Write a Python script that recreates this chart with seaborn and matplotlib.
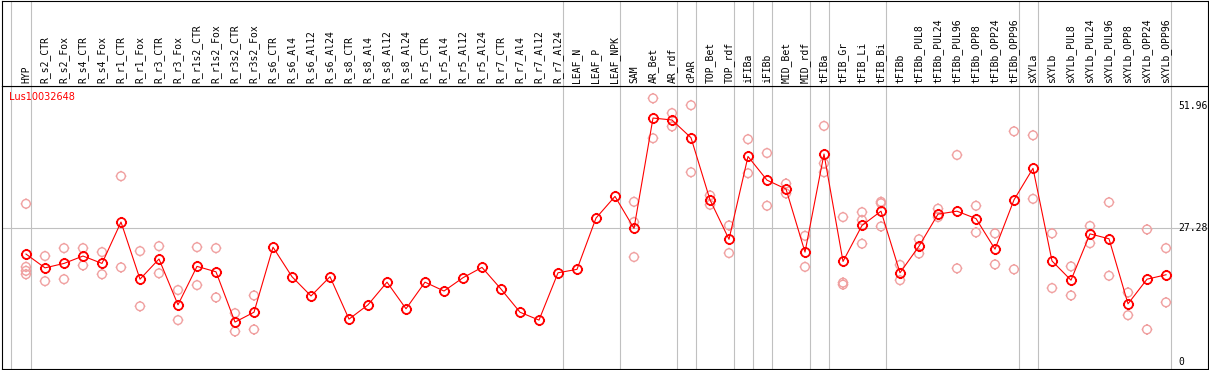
import numpy as np
import pandas as pd
import matplotlib
matplotlib.use("Agg")
import matplotlib.pyplot as plt
import matplotlib.transforms as mtransforms
from matplotlib.path import Path
import seaborn as sns

# sample names (one column each)
samples = [
    "HYP", "R_s2_CTR", "R_s2_Fox", "R_s4_CTR", "R_s4_Fox", "R_r1_CTR", "R_r1_Fox",
    "R_r3_CTR", "R_r3_Fox", "R_r1s2_CTR", "R_r1s2_Fox", "R_r3s2_CTR", "R_r3s2_Fox",
    "R_s6_CTR", "R_s6_Al4", "R_s6_Al12", "R_s6_Al24", "R_s8_CTR", "R_s8_Al4",
    "R_s8_Al12", "R_s8_Al24", "R_r5_CTR", "R_r5_Al4", "R_r5_Al12", "R_r5_Al24",
    "R_r7_CTR", "R_r7_Al4", "R_r7_Al12", "R_r7_Al24", "LEAF_N", "LEAF_P", "LEAF_NPK",
    "SAM", "AR_Bet", "AR_rdf", "cPAR", "TOP_Bet", "TOP_rdf", "iFIBa", "iFIBb",
    "MID_Bet", "MID_rdf", "tFIBa", "tFIB_Gr", "tFIB_Li", "tFIB_Bi", "tFIBb",
    "tFIBb_PUL8", "tFIBb_PUL24", "tFIBb_PUL96", "tFIBb_OPP8", "tFIBb_OPP24",
    "tFIBb_OPP96", "sXYLa", "sXYLb", "sXYLb_PUL8", "sXYLb_PUL24", "sXYLb_PUL96",
    "sXYLb_OPP8", "sXYLb_OPP24", "sXYLb_OPP96",
]

# mean expression per sample
means = [
    22.0, 19.2, 20.1, 21.6, 20.1, 28.5, 16.9, 21.0, 11.7, 19.5, 18.4, 8.2, 10.2,
    23.4, 17.4, 13.5, 17.4, 8.8, 11.7, 16.3, 10.9, 16.3, 14.5, 17.2, 19.3,
    14.9, 10.2, 8.6, 18.2, 18.9, 29.3, 33.7,
    27.2, 49.6, 49.2, 45.6, 33.0, 25.0, 41.8, 37.0, 35.2, 22.4,
    42.3, 20.5, 27.8, 30.7, 18.2, 23.6, 30.1, 30.7, 29.2, 23.0, 33.0,
    39.4, 20.6, 16.7, 26.1, 25.1, 11.9, 16.9, 17.8,
]

# individual replicates per sample
replicates = [
    [32.2, 19.4, 18.6, 17.9], [21.6, 16.5], [23.2, 16.9], [23.2, 19.7], [22.4, 17.9],
    [37.8, 19.3], [22.6, 11.4], [23.6, 18.1], [14.7, 8.6], [23.4, 15.7], [23.2, 13.2],
    [10.0, 6.3], [13.6, 6.7],
    [], [], [], [], [], [], [], [], [], [], [], [], [], [], [], [], [], [], [],
    [32.6, 28.5, 21.4], [53.6, 45.5], [50.6, 47.9], [52.2, 38.6], [33.9, 32.0],
    [27.8, 22.2], [45.3, 38.4], [42.5, 31.8], [36.3, 34.3], [25.7, 19.4],
    [48.0, 40.4, 38.6], [29.5, 16.2, 15.8], [30.5, 28.9, 24.1], [32.6, 32.3, 27.6],
    [19.8, 16.7], [25.0, 22.1], [31.2, 29.5], [42.1, 19.1], [31.8, 26.4], [26.2, 19.9],
    [46.9, 18.9], [46.1, 33.2], [26.2, 15.1], [19.5, 13.6], [27.7, 24.2], [32.5, 17.6],
    [14.2, 9.6], [27.0, 6.7], [23.2, 12.2],
]

# last sample of each group (a separator line follows it)
group_ends = ["HYP", "R_r7_Al24", "LEAF_NPK", "AR_rdf", "cPAR", "TOP_rdf", "iFIBa",
              "iFIBb", "MID_rdf", "tFIBa", "tFIB_Bi", "tFIBb_OPP96", "sXYLa", "sXYLb_OPP96"]

gene = "Lus10032648"
y_labels = [51.96, 27.28, 0]

x = np.arange(len(samples))
mean_df = pd.DataFrame({"pos": x, "value": means})
rep_df = pd.DataFrame({
    "pos": [i for i, r in enumerate(replicates) for _ in r],
    "value": [v for r in replicates for v in r],
})

# circle with four little ticks, like the original bitmap marker
ticks = []
for dx, dy in [(1, 0), (-1, 0), (0, 1), (0, -1)]:
    ticks.append(Path([(dx, dy), (dx * 1.25, dy * 1.25)], [Path.MOVETO, Path.LINETO]))
tick_circle = Path.make_compound_path(Path.unit_circle(), *ticks)

W, H = 1209, 370
fig = plt.figure(figsize=(W / 100, H / 100), dpi=100)
left, right = 1.5, 1208
top_hdr, line_y, bottom = 0.5, 85.5, 369
ax = fig.add_axes([left / W, (H - bottom) / H, (right - left) / W, (bottom - line_y) / H])
hdr = fig.add_axes([left / W, (H - line_y) / H, (right - left) / W, (line_y - top_hdr) / H])

xlim = ((left - 26) / 19, (right - 26) / 19)
grey = "#c0c0c0"
pink = "#f0a0a0"

for a in (ax, hdr):
    a.set_xlim(*xlim)
    a.set_xticks([])
    a.set_yticks([])
    for s in a.spines.values():
        s.set_color("black")
        s.set_linewidth(0.8)
    a.axvline(-0.8, color=grey, lw=0.8, zorder=0)
    for g in group_ends:
        a.axvline(samples.index(g) + 0.25, color=grey, lw=0.8, zorder=0)

ax.set_ylim(-1.32, 56.2)
ax.axhline(27.28, color=grey, lw=0.8, zorder=0)

sns.scatterplot(data=rep_df, x="pos", y="value", ax=ax, marker=tick_circle, s=60,
                facecolor="none", edgecolor=pink, linewidth=1.0, zorder=2)
sns.lineplot(data=mean_df, x="pos", y="value", ax=ax, color="red", linewidth=0.8,
             marker=tick_circle, markersize=8, markerfacecolor="none",
             markeredgecolor="red", markeredgewidth=1.3, zorder=3)
ax.set_xlabel("")
ax.set_ylabel("")

ax.text((9 - left) / (right - left), (bottom - 96.7) / (bottom - line_y), gene,
        transform=ax.transAxes, color="red", fontsize=7, family="DejaVu Sans", va="center")

trans = mtransforms.blended_transform_factory(ax.transAxes, ax.transData)
for v in y_labels:
    ax.text((1178 - left) / (right - left), v, f"{v:g}", transform=trans,
            fontsize=7, family="DejaVu Sans Mono", va="center", ha="left")

hdr.set_ylim(0, line_y - top_hdr)
for i, name in enumerate(samples):
    hdr.text(i, 2.5, name, rotation=90, ha="center", va="bottom",
             fontsize=7, family="DejaVu Sans Mono")

fig.savefig("out.png", dpi=100)
